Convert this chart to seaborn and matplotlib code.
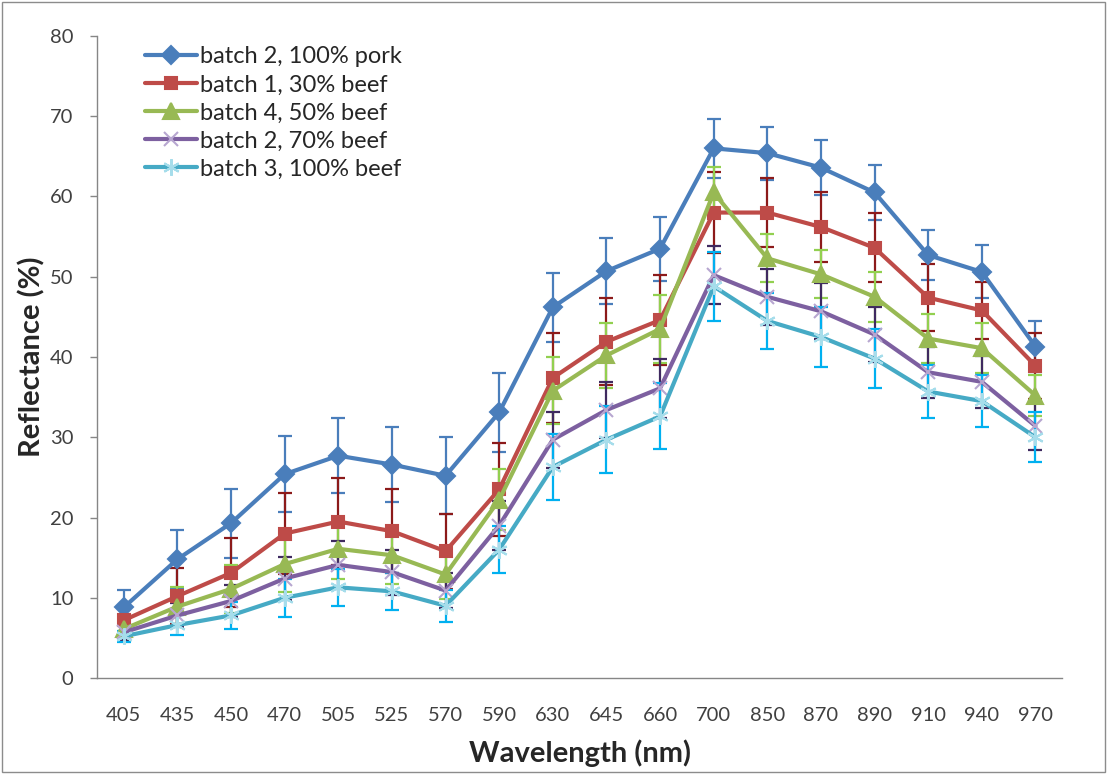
import numpy as np
import pandas as pd
import seaborn as sns
import matplotlib.pyplot as plt
from matplotlib.patches import Rectangle

# data
wavelengths = ["405", "435", "450", "470", "505", "525", "570", "590", "630",
               "645", "660", "700", "850", "870", "890", "910", "940", "970"]

labels = ["batch 2, 100% pork", "batch 1, 30% beef", "batch 4, 50% beef",
          "batch 2, 70% beef", "batch 3, 100% beef"]

pork100 = [8.8, 14.8, 19.3, 25.4, 27.7, 26.6, 25.2, 33.1, 46.2, 50.7, 53.5, 66.0, 65.4, 63.6, 60.5, 52.7, 50.6, 41.3]
beef30 = [7.2, 10.2, 13.1, 18.0, 19.5, 18.3, 15.8, 23.5, 37.4, 41.9, 44.6, 58.0, 58.0, 56.2, 53.6, 47.4, 45.8, 38.9]
beef50 = [6.1, 8.9, 11.1, 14.2, 16.1, 15.3, 12.9, 22.2, 35.8, 40.2, 43.5, 60.5, 52.3, 50.3, 47.5, 42.3, 41.1, 35.2]
beef70 = [5.7, 7.8, 9.6, 12.4, 14.1, 13.2, 10.9, 19.0, 29.7, 33.4, 36.1, 50.2, 47.5, 45.7, 42.8, 38.1, 36.9, 31.4]
beef100 = [5.2, 6.6, 7.8, 10.0, 11.3, 10.8, 9.0, 16.0, 26.3, 29.7, 32.6, 48.8, 44.5, 42.5, 39.8, 35.7, 34.5, 30.0]

err_pork100 = [2.2, 3.6, 4.3, 4.7, 4.7, 4.7, 4.8, 4.9, 4.3, 4.1, 4.0, 3.7, 3.3, 3.4, 3.4, 3.1, 3.3, 3.2]
err_beef30 = [1.8, 3.5, 4.3, 5.1, 5.4, 5.2, 4.7, 5.8, 5.6, 5.4, 5.6, 5.1, 4.3, 4.3, 4.3, 4.2, 3.5, 4.1]
err_beef50 = [1.5, 2.4, 3.0, 3.5, 3.7, 3.6, 3.0, 3.8, 4.2, 4.0, 4.2, 3.2, 3.0, 3.0, 3.1, 3.1, 3.1, 2.5]
err_beef70 = [0.9, 1.5, 2.0, 2.7, 3.0, 2.8, 2.2, 3.0, 3.5, 3.5, 3.7, 3.6, 3.5, 3.5, 3.4, 3.2, 3.2, 3.0]
err_beef100 = [0.7, 1.2, 1.7, 2.4, 2.3, 2.3, 2.0, 2.9, 4.1, 4.2, 4.1, 4.3, 3.5, 3.7, 3.7, 3.3, 3.2, 3.1]

values = [pork100, beef30, beef50, beef70, beef100]
errors = [err_pork100, err_beef30, err_beef50, err_beef70, err_beef100]

line_colors = ["#4A7EBB", "#BE4B48", "#98B954", "#7D60A0", "#46AAC5"]
err_colors = ["#4A7EBB", "#8C1A1A", "#92D050", "#3F2A60", "#00B0F0"]
marker_colors = ["#4A7EBB", "#BE4B48", "#98B954", "#B7A6D0", "#A6DDEB"]
markers = ["D", "s", "^", "x", (6, 2, 0)]
msizes = [9, 9, 11, 10, 12]

rows = []
for lab, vals in zip(labels, values):
    for i, v in enumerate(vals):
        rows.append({"pos": i, "sample": lab, "reflectance": v})
df = pd.DataFrame(rows)

sns.set_style("white")
plt.rcParams["font.family"] = ["Lato", "DejaVu Sans"]

fig = plt.figure(figsize=(11.07, 7.74), dpi=100)
ax = fig.add_axes([0.0876, 0.124, 0.872, 0.8295])

x = np.arange(len(wavelengths))
for vals, errs, ec in zip(values, errors, err_colors):
    ax.errorbar(x, vals, yerr=errs, fmt="none", ecolor=ec, elinewidth=1.6,
                capsize=5, capthick=1.6, zorder=2)

for lab, lc, mc, mk, ms in zip(labels, line_colors, marker_colors, markers, msizes):
    sns.lineplot(data=df[df["sample"] == lab], x="pos", y="reflectance",
                 color=lc, linewidth=3, marker=mk, markersize=ms,
                 markerfacecolor=mc, markeredgecolor=mc, markeredgewidth=1.5,
                 label=lab, ax=ax, zorder=3)

ax.set_xlim(-0.5, len(wavelengths) - 0.5)
ax.set_ylim(0, 80)
ax.set_yticks(range(0, 81, 10))
ax.set_xticks(x)
ax.set_xticklabels(wavelengths)
ax.set_xticks(np.arange(-0.5, len(wavelengths), 1), minor=True)
ax.tick_params(axis="x", which="major", length=0, labelsize=14.5, pad=21,
               labelcolor="#404040")
ax.tick_params(axis="x", which="minor", length=5, color="#868686", width=1)
ax.tick_params(axis="y", length=5, color="#868686", width=1, labelsize=14.5,
               left=True, pad=12, labelcolor="#404040")
ax.set_xlabel("Wavelength (nm)", fontsize=21, fontweight="bold", labelpad=11)
ax.set_ylabel("Reflectance (%)", fontsize=21, fontweight="bold", labelpad=3)

for side in ["top", "right"]:
    ax.spines[side].set_visible(False)
for side in ["left", "bottom"]:
    ax.spines[side].set_color("#868686")
    ax.spines[side].set_linewidth(1)

ax.legend(loc="upper left", bbox_to_anchor=(0.0497, 0.984), frameon=False,
          fontsize=17, handlelength=2.2, handletextpad=0.15, labelspacing=0.3,
          borderaxespad=0, borderpad=0)

fig.patches.append(Rectangle((0.002, 0.002), 0.996, 0.996, transform=fig.transFigure,
                             fill=False, edgecolor="#8C8C8C", linewidth=1))

fig.savefig("out.png", dpi=100)
